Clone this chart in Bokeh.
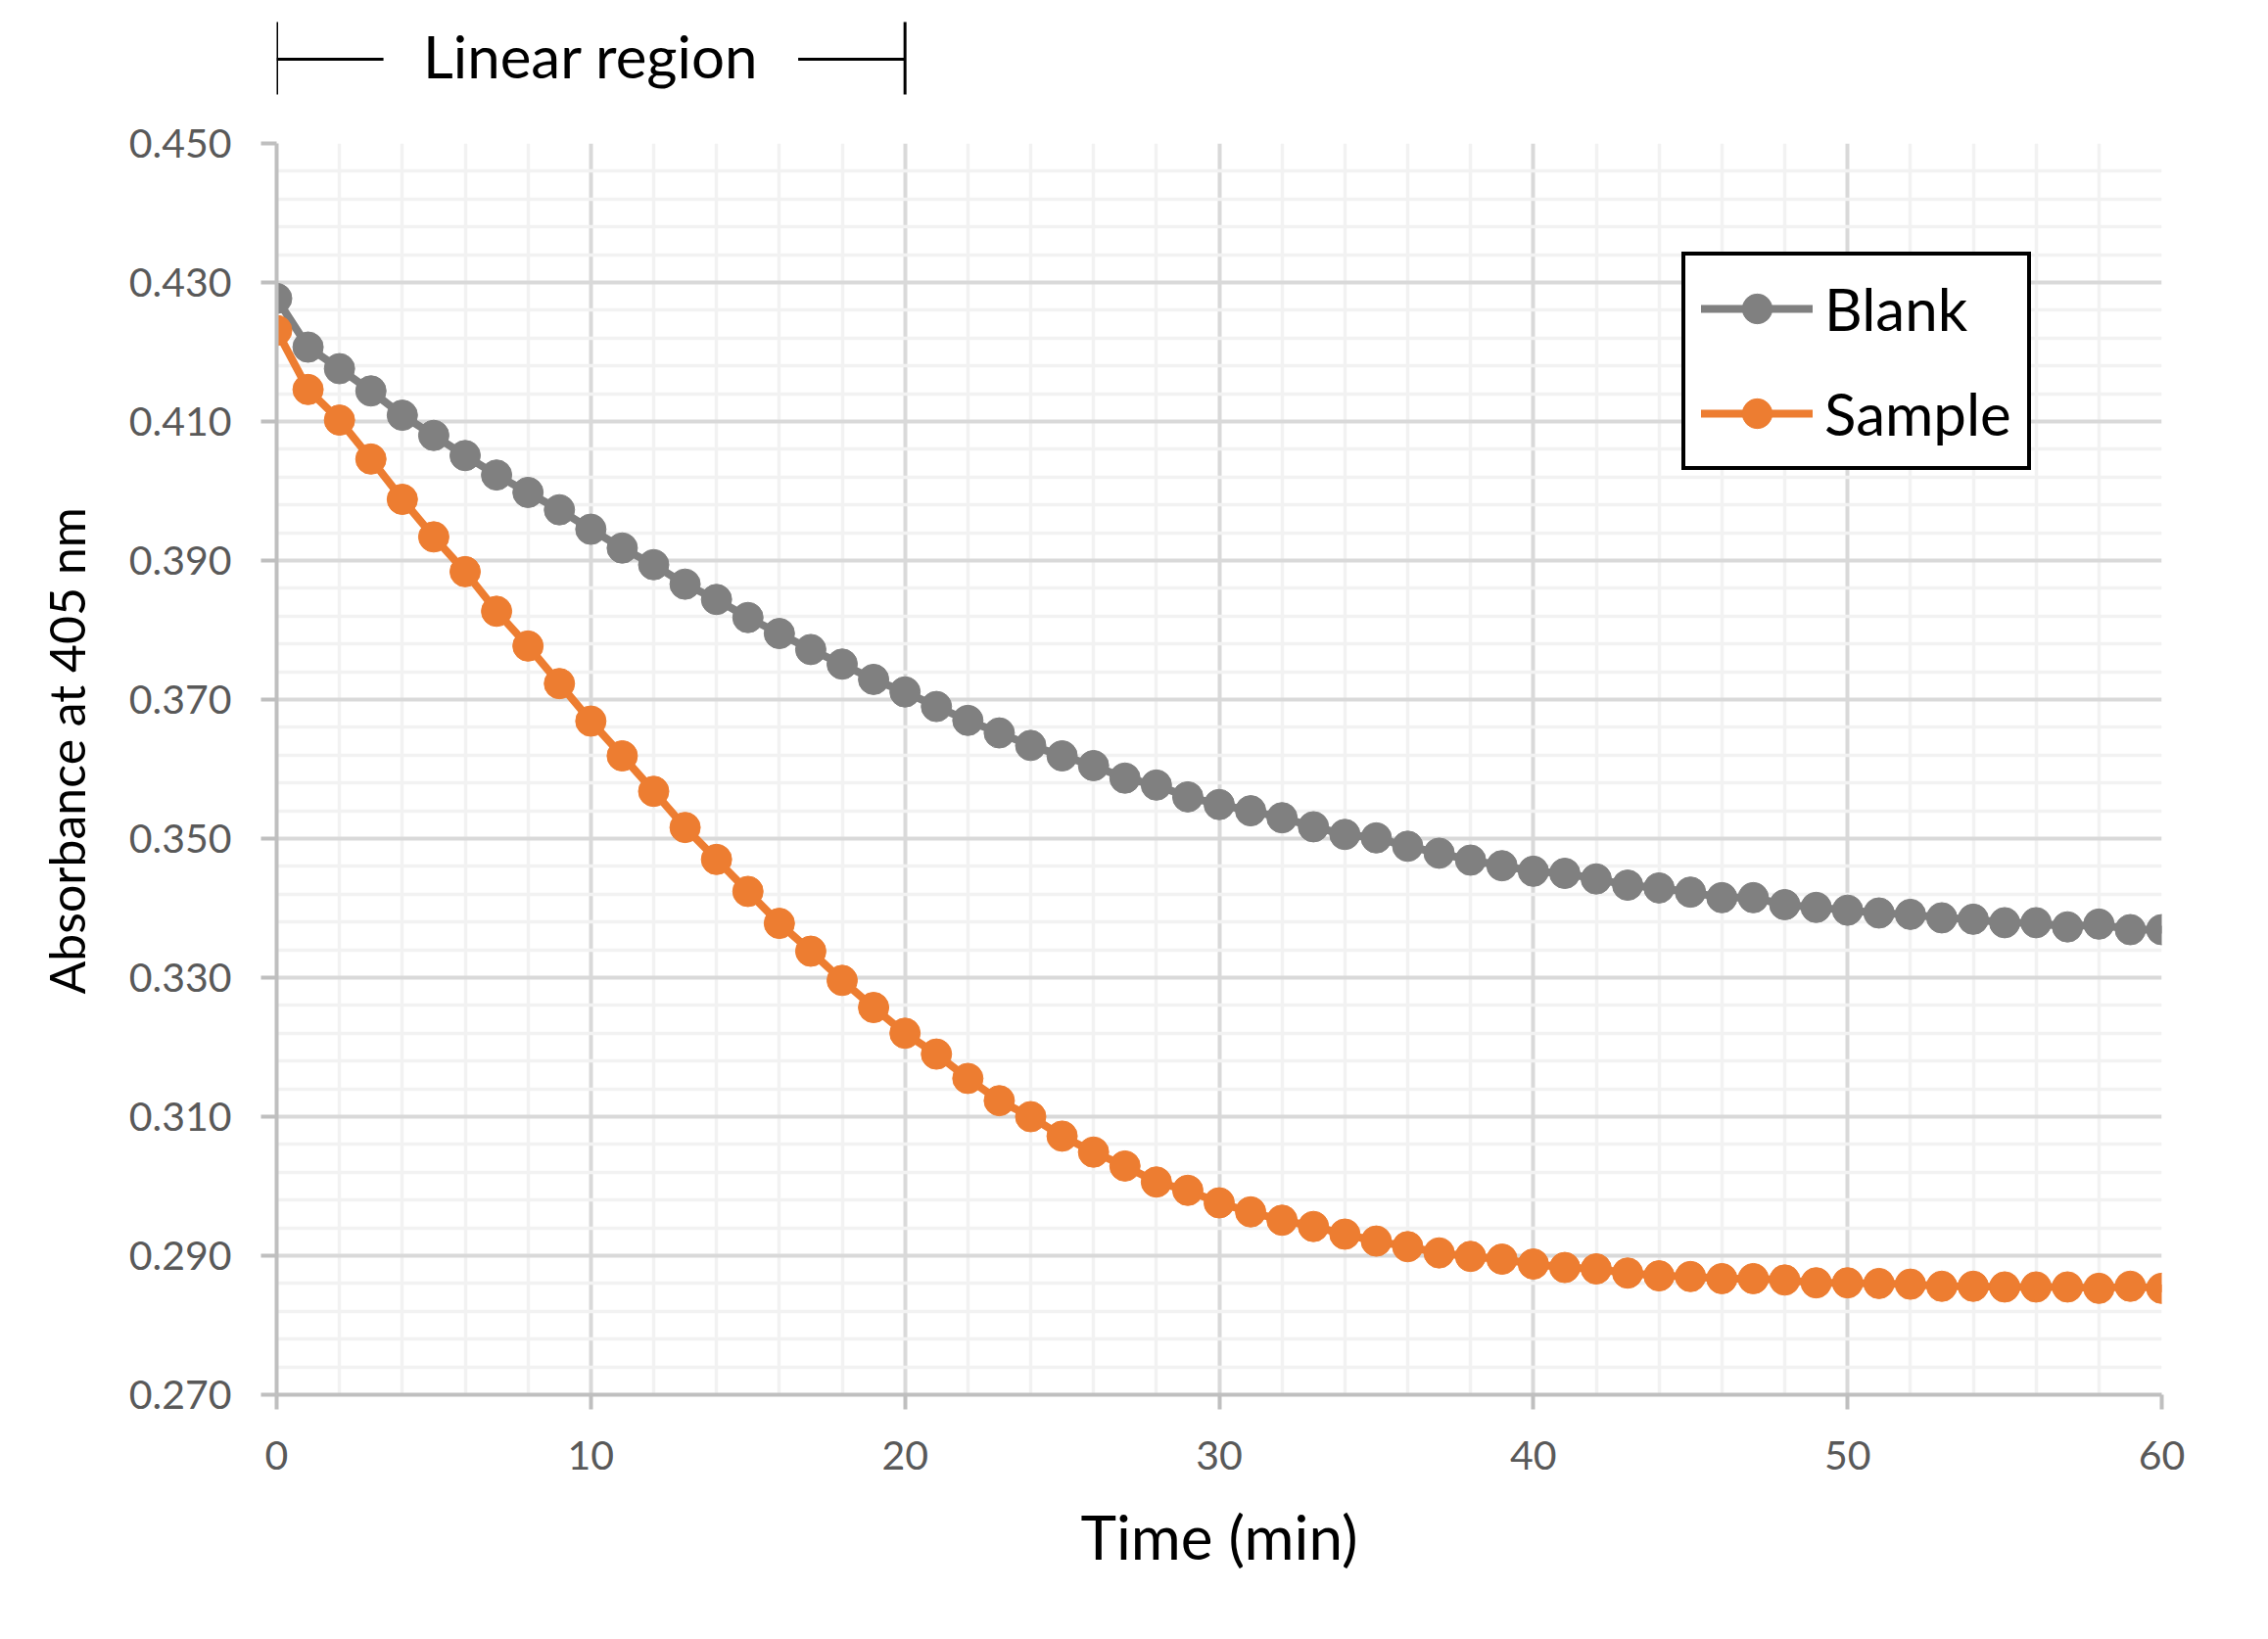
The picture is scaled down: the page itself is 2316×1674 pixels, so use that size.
from bokeh.plotting import figure
from bokeh.models import Range1d, FixedTicker, Legend, LegendItem, Title
from bokeh.layouts import column
from bokeh.core.properties import value
from bokeh.embed import file_html
from bokeh.resources import INLINE

# ---------------- data ----------------
time_min = list(range(0, 61))
blank = [0.4277, 0.4207, 0.4176, 0.4144, 0.4109, 0.4080, 0.4051, 0.4023, 0.3998, 0.3973,
         0.3945, 0.3918, 0.3894, 0.3866, 0.3844, 0.3818, 0.3795, 0.3772, 0.3751, 0.3729,
         0.3711, 0.3690, 0.3670, 0.3652, 0.3634, 0.3619, 0.3605, 0.3587, 0.3577, 0.3560,
         0.3549, 0.3540, 0.3530, 0.3517, 0.3506, 0.3501, 0.3489, 0.3479, 0.3469, 0.3461,
         0.3453, 0.3450, 0.3442, 0.3433, 0.3429, 0.3423, 0.3415, 0.3415, 0.3405, 0.3401,
         0.3397, 0.3393, 0.3391, 0.3386, 0.3384, 0.3379, 0.3379, 0.3373, 0.3377, 0.3369,
         0.3369]
sample = [0.4231, 0.4146, 0.4102, 0.4046, 0.3988, 0.3934, 0.3884, 0.3827, 0.3777, 0.3723,
          0.3669, 0.3619, 0.3568, 0.3516, 0.3470, 0.3424, 0.3378, 0.3338, 0.3296, 0.3257,
          0.3220, 0.3190, 0.3155, 0.3123, 0.3100, 0.3072, 0.3049, 0.3029, 0.3006, 0.2994,
          0.2976, 0.2963, 0.2951, 0.2942, 0.2931, 0.2921, 0.2913, 0.2904, 0.2899, 0.2895,
          0.2888, 0.2883, 0.2881, 0.2875, 0.2871, 0.2870, 0.2867, 0.2867, 0.2865, 0.2861,
          0.2861, 0.2860, 0.2859, 0.2856, 0.2856, 0.2855, 0.2855, 0.2855, 0.2853, 0.2856,
          0.2853]

x_ticks = [0, 10, 20, 30, 40, 50, 60]
x_labels = ["0", "10", "20", "30", "40", "50", "60"]
x_minor = [2, 4, 6, 8, 12, 14, 16, 18, 22, 24, 26, 28, 32, 34, 36, 38, 42, 44, 46, 48, 52, 54, 56, 58]
y_ticks = [0.27, 0.29, 0.31, 0.33, 0.35, 0.37, 0.39, 0.41, 0.43, 0.45]
y_labels = ["0.270", "0.290", "0.310", "0.330", "0.350", "0.370", "0.390", "0.410", "0.430", "0.450"]
y_minor = [round(0.27 + 0.004 * i, 3) for i in range(46) if i % 5 != 0]

linear_region = [0, 20]          # bracket ends (min)
linear_gap = [3.4, 16.6]         # where the bracket line breaks around the text
linear_label = "Linear region"

GRAY = "#808080"
ORANGE = "#ED7D31"
FONT = "Lato"

W = 2300
LEFT, RIGHT = 282, 93
TOP_H = 116
MAIN_TOP = 30
MAIN_FRAME_H = 1278
MAIN_H = 1658 - TOP_H
MAIN_BOTTOM = MAIN_H - MAIN_TOP - MAIN_FRAME_H

# ---------------- main plot ----------------
p = figure(width=W, height=MAIN_H, output_backend="svg", toolbar_location=None,
           x_range=Range1d(0, 60), y_range=Range1d(0.27, 0.45),
           min_border_left=LEFT, min_border_right=RIGHT, min_border_top=MAIN_TOP,
           min_border_bottom=MAIN_BOTTOM)
p.outline_line_color = None
p.background_fill_color = "white"

p.xaxis.ticker = FixedTicker(ticks=x_ticks, minor_ticks=x_minor)
p.yaxis.ticker = FixedTicker(ticks=y_ticks, minor_ticks=y_minor)
p.xaxis.major_label_overrides = {t: l for t, l in zip(x_ticks, x_labels)}
p.yaxis.major_label_overrides = {t: l for t, l in zip(y_ticks, y_labels)}

for g in (p.xgrid, p.ygrid):
    g.grid_line_color = "#D9D9D9"
    g.grid_line_width = 4
    g.minor_grid_line_color = "#F2F2F2"
    g.minor_grid_line_width = 3.5

for ax in (p.xaxis, p.yaxis):
    ax.axis_line_color = "#BFBFBF"
    ax.axis_line_width = 4
    ax.major_tick_line_color = "#BFBFBF"
    ax.major_tick_line_width = 4
    ax.major_tick_in = 0
    ax.minor_tick_line_color = None
    ax.major_label_text_font = FONT
    ax.major_label_text_font_size = "41px"
    ax.major_label_text_color = "#595959"
    ax.axis_label_text_font = FONT
    ax.axis_label_text_font_style = "normal"
    ax.axis_label_text_color = "black"

p.yaxis.major_tick_out = 16
p.yaxis.major_label_standoff = 30

p.xaxis.major_tick_out = 15
p.xaxis.major_label_standoff = 32
p.xaxis.axis_label = "Time (min)"
p.xaxis.axis_label_text_font_size = "62px"
p.xaxis.axis_label_standoff = 28

# y-axis title as a side title so it can be placed along the axis
ytitle = Title(text="Absorbance at 405 nm", align="left", offset=409,
               text_font=FONT, text_font_size="50px", text_font_style="normal",
               text_color="black", standoff=61)
p.add_layout(ytitle, "left")

bl = p.line(time_min, blank, line_color=GRAY, line_width=8, line_cap="round", line_join="round")
bs = p.scatter(time_min, blank, size=31, fill_color=GRAY, line_color=GRAY)
sl = p.line(time_min, sample, line_color=ORANGE, line_width=8, line_cap="round", line_join="round")
ss = p.scatter(time_min, sample, size=31, fill_color=ORANGE, line_color=ORANGE)

legend = Legend(items=[LegendItem(label="Blank", renderers=[bl, bs]),
                       LegendItem(label="Sample", renderers=[sl, ss])],
                location=(1435, 944))
legend.label_text_font = FONT
legend.label_text_font_size = "60px"
legend.label_text_color = "black"
legend.glyph_width = 114
legend.glyph_height = 76
legend.label_height = 76
legend.spacing = 31
legend.padding = 16
legend.margin = 0
legend.label_standoff = 12
legend.border_line_color = "black"
legend.border_line_alpha = 1.0
legend.border_line_width = 4
legend.background_fill_color = "white"
legend.background_fill_alpha = 1.0
p.add_layout(legend, "center")

# ---------------- bracket annotation above ----------------
top = figure(width=W, height=TOP_H, output_backend="svg", toolbar_location=None,
             x_range=p.x_range, y_range=Range1d(0, TOP_H),
             min_border_left=LEFT, min_border_right=RIGHT, min_border_top=0,
             min_border_bottom=0)
top.axis.visible = False
top.grid.visible = False
top.outline_line_color = None

top.segment(x0=linear_region, y0=[20, 20], x1=linear_region, y1=[94, 94],
            line_color="black", line_width=3)
top.segment(x0=[linear_region[0], linear_gap[1]], y0=[56, 56],
            x1=[linear_gap[0], linear_region[1]], y1=[56, 56],
            line_color="black", line_width=3)
top.text(x=[sum(linear_region) / 2], y=[60], text=[linear_label],
         text_font=value(FONT), text_font_size="60px", text_color="black",
         text_align="center", text_baseline="alphabetic")

layout = column(top, p, spacing=0)
open("out.html", "w").write(file_html(layout, INLINE))
